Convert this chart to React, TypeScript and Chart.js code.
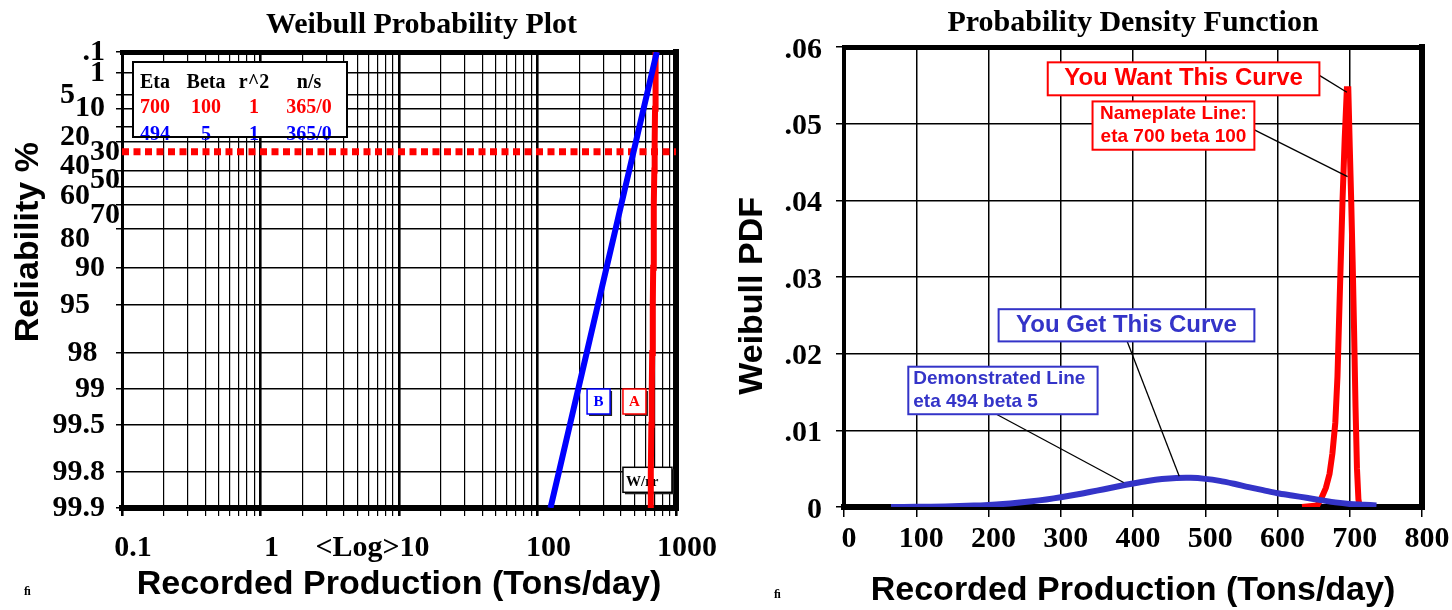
import React, { useEffect, useRef } from "react";
import { Chart, registerables } from "chart.js";

Chart.register(...registerables);

// ---------------- Left: Weibull probability plot ----------------
const PROB_RELIABILITY = [99.9, 99.8, 99.5, 99, 98, 95, 90, 80, 70, 50, 30, 10, 1, 0.1];
const PROB_B_PRODUCTION = [124.1, 142.6, 171.3, 196.9, 226.4, 272.7, 315.0, 366.0, 402.0, 459.1, 512.7, 583.7, 670.5, 727.1];
const PROB_A_PRODUCTION = [653.3, 657.8, 663.9, 668.5, 673.2, 679.5, 684.4, 689.6, 692.8, 697.4, 701.3, 705.9, 710.8, 713.7];
const ETA_LINE_RELIABILITY = 36.8;
const ETA_LINE_PRODUCTION = [0.1, 1000];

const REL_TICKS = [0.1, 1, 5, 10, 20, 30, 40, 50, 60, 70, 80, 90, 95, 98, 99, 99.5, 99.8, 99.9];
const REL_TICK_LABELS = [".1", "1", "5", "10", "20", "30", "40", "50", "60", "70", "80", "90", "95", "98", "99", "99.5", "99.8", "99.9"];
const LOG_DECADES = [0.1, 1, 10, 100, 1000];
const LOG_DECADE_LABELS = ["0.1", "1", "<Log>10", "100", "1000"];

const LEGEND_HEADER = ["Eta", "Beta", "r^2", "n/s"];
const LEGEND_ETA = [700, 494];
const LEGEND_BETA = [100, 5];
const LEGEND_R2 = [1, 1];
const LEGEND_NS = ["365/0", "365/0"];

// ---------------- Right: probability density function ----------------
const PDF_B_X = [65, 100, 140, 180, 200, 220, 240, 260, 280, 300, 320, 340, 360, 380, 400, 420, 440, 460, 480, 500, 520, 540, 560, 580, 600, 620, 640, 660, 680, 700, 720, 737];
const PDF_B_Y = [0.0, 0.00002, 0.00007, 0.00018, 0.00027, 0.00039, 0.00055, 0.00075, 0.00099, 0.00127, 0.00159, 0.00195, 0.00232, 0.00271, 0.00307, 0.00339, 0.00364, 0.00378, 0.0038, 0.00367, 0.00341, 0.00303, 0.0026, 0.0022, 0.0018, 0.0015, 0.0012, 0.0009, 0.0006, 0.0004, 0.0003, 0.0002];
const PDF_A_X = [634, 655, 661, 667, 672, 676, 680, 683, 686, 690, 693, 696, 698, 700, 702, 704, 706, 708, 710, 712, 714];
const PDF_A_Y = [0.0, 0.0002, 0.0012, 0.0025, 0.0043, 0.007, 0.011, 0.017, 0.027, 0.04, 0.048, 0.0545, 0.0545, 0.047, 0.04, 0.032, 0.023, 0.013, 0.005, 0.001, 0.0];
const PDF_X_TICKS = [0, 100, 200, 300, 400, 500, 600, 700, 800];
const PDF_Y_TICKS = [0, 0.01, 0.02, 0.03, 0.04, 0.05, 0.06];
const PDF_Y_LABELS = ["0", ".01", ".02", ".03", ".04", ".05", ".06"];

// ---------------- styling ----------------
const SERIF = '"Liberation Serif", "Times New Roman", serif';
const SANS = '"Liberation Sans", Arial, sans-serif';
const RED = "#ff0000";
const BLUE = "#0000ff";
const PDF_BLUE = "#3434c8";

// label nudges (trailing spaces push right-aligned text left, extra blank line drops it)
const REL_LABEL_SPACES: Record<string, number> = {
  ".1": 2, "1": 2, "5": 6, "10": 2, "20": 4, "30": 0, "40": 4, "50": 0, "60": 4, "70": 0,
  "80": 4, "90": 2, "95": 4, "98": 3, "99": 2, "99.5": 2, "99.8": 2, "99.9": 2,
};
const REL_LABEL_DROPPED = ["20", "30", "40", "50", "60", "70", "80"];
const REL_NO_GRID = [40];

const PDF_NOTES = [
  { lines: ["You Want This Curve"], color: RED, size: 24, align: "center", x0: 282, x1: 658, y0: 0.0537, y1: 0.058, lx0: 658, ly0: 0.0563, lx1: 696, ly1: 0.0541 },
  { lines: ["Nameplate Line:", "eta 700 beta 100"], color: RED, size: 19, align: "center", x0: 344, x1: 568, y0: 0.0466, y1: 0.0529, lx0: 568, ly0: 0.0492, lx1: 697, ly1: 0.0431 },
  { lines: ["You Get This Curve"], color: PDF_BLUE, size: 24, align: "center", x0: 214, x1: 568, y0: 0.0216, y1: 0.0258, lx0: 392, ly0: 0.0216, lx1: 464, ly1: 0.004 },
  { lines: ["Demonstrated Line", "eta 494 beta 5"], color: PDF_BLUE, size: 19, align: "left", x0: 89, x1: 351, y0: 0.0121, y1: 0.0183, lx0: 211, ly0: 0.0121, lx1: 387, ly1: 0.0032 },
];

const wt = (pct: number) => Math.log(-Math.log(pct / 100));

function buildLogGrid(): number[] {
  const out: number[] = [];
  for (let i = 0; i < LOG_DECADES.length - 1; i++) {
    for (let m = 1; m <= 9; m++) out.push(Number((LOG_DECADES[i] * m).toPrecision(6)));
  }
  out.push(LOG_DECADES[LOG_DECADES.length - 1]);
  return out;
}
const decadeIndex = (v: number) => LOG_DECADES.findIndex((d) => Math.abs(d - v) / d < 1e-6);

const frameAxis = (position: string, width: number) => ({
  type: "linear",
  position,
  min: 0,
  max: 1,
  ticks: { display: false },
  grid: { display: true, drawOnChartArea: false, drawTicks: false, color: "rgba(0,0,0,0)", lineWidth: width },
  border: { display: true, color: "#000", width },
  afterFit: (s: any) => {
    if (position === "top" || position === "bottom") s.height = 0;
    else s.width = 0;
  },
});

function drawGlyph(ctx: CanvasRenderingContext2D, x: number, y: number) {
  ctx.save();
  ctx.fillStyle = "#000";
  ctx.font = `bold 12px ${SERIF}`;
  ctx.textAlign = "left";
  ctx.textBaseline = "alphabetic";
  ctx.fillText("\ufb01", x, y);
  ctx.restore();
}

function makeProbChart(canvas: HTMLCanvasElement) {
  const logGrid = buildLogGrid();

  const notes = {
    id: "probNotes",
    beforeDatasetsDraw(chart: any) {
      const { ctx, chartArea: a, scales } = chart;
      const xs = scales.x;
      const ys = scales.y;
      ctx.save();
      // results box
      const bx = a.left + 11;
      const by = a.top + 10;
      const bw = 214;
      const bh = 75;
      ctx.fillStyle = "#fff";
      ctx.fillRect(bx, by, bw, bh);
      ctx.font = `bold 20px ${SERIF}`;
      ctx.textAlign = "center";
      ctx.textBaseline = "alphabetic";
      const cols = [22, 73, 121, 176];
      ctx.fillStyle = "#000";
      LEGEND_HEADER.forEach((h, i) => ctx.fillText(h, bx + cols[i], by + 26));
      const rowColors = [RED, BLUE];
      const rowY = [by + 51, by + 78];
      LEGEND_ETA.forEach((_, r) => {
        ctx.fillStyle = rowColors[r];
        const vals = [String(LEGEND_ETA[r]), String(LEGEND_BETA[r]), String(LEGEND_R2[r]), LEGEND_NS[r]];
        vals.forEach((v, i) => ctx.fillText(v, bx + cols[i], rowY[r]));
      });
      ctx.strokeStyle = "#000";
      ctx.lineWidth = 2;
      ctx.strokeRect(bx, by, bw, bh);

      // small labelled boxes
      const smallBox = (text: string, color: string, xVal: number, rel: number, w: number, h: number, align: string) => {
        const x = xs.getPixelForValue(xVal);
        const y = ys.getPixelForValue(wt(rel));
        ctx.fillStyle = "#222";
        ctx.fillRect(x + 2, y + 2, w, h);
        ctx.fillStyle = "#fff";
        ctx.fillRect(x, y, w, h);
        ctx.strokeStyle = color;
        ctx.lineWidth = 1.5;
        ctx.strokeRect(x, y, w, h);
        ctx.fillStyle = color;
        ctx.font = `bold 15px ${SERIF}`;
        ctx.textBaseline = "middle";
        if (align === "center") {
          ctx.textAlign = "center";
          ctx.fillText(text, x + w / 2, y + h / 2 + 1);
        } else {
          ctx.textAlign = "left";
          ctx.fillText(text, x + 3, y + h / 2 + 2);
        }
      };
      smallBox("B", BLUE, 228, 99, 23, 25, "center");
      smallBox("A", RED, 414, 99, 23, 25, "center");
      smallBox("W/rr", "#000", 414, 99.78, 49, 25, "left");
      ctx.restore();
    },
    afterDraw(chart: any) {
      drawGlyph(chart.ctx, 24, 595);
    },
  };

  return new Chart(canvas as any, {
    type: "line",
    data: {
      datasets: [
        {
          label: "B",
          data: PROB_B_PRODUCTION.map((x, i) => ({ x, y: wt(PROB_RELIABILITY[i]) })),
          borderColor: BLUE,
          backgroundColor: BLUE,
          borderWidth: 6,
          pointRadius: 0,
          tension: 0,
        },
        {
          label: "A",
          data: PROB_A_PRODUCTION.map((x, i) => ({ x, y: wt(PROB_RELIABILITY[i]) })),
          borderColor: RED,
          backgroundColor: RED,
          borderWidth: 6,
          pointRadius: 0,
          tension: 0,
        },
        {
          label: "eta",
          data: ETA_LINE_PRODUCTION.map((x) => ({ x, y: wt(ETA_LINE_RELIABILITY) })),
          borderColor: RED,
          borderWidth: 7,
          borderDash: [7, 4.5],
          borderCapStyle: "butt",
          pointRadius: 0,
        },
      ],
    } as any,
    options: {
      animation: false,
      responsive: false,
      events: [],
      layout: { padding: { left: 0, right: 54, top: 0, bottom: 0 } },
      plugins: {
        legend: { display: false },
        tooltip: { enabled: false },
        title: {
          display: true,
          text: " ".repeat(6) + "Weibull Probability Plot",
          fullSize: false,
          color: "#000",
          font: { family: SERIF, size: 30, weight: "bold", lineHeight: 1.2 },
          padding: { top: 7, bottom: 9 },
        },
      },
      scales: {
        x: {
          type: "logarithmic",
          position: "bottom",
          min: 0.1,
          max: 1000,
          afterBuildTicks: (s: any) => {
            s.ticks = logGrid.map((v) => ({ value: v, major: decadeIndex(v) >= 0 }));
          },
          ticks: {
            autoSkip: false,
            maxRotation: 0,
            minRotation: 0,
            color: "#000",
            padding: 14,
            labelOffset: 11,
            font: { family: SERIF, size: 30, weight: "bold" },
            callback: (_v: any, i: number, ticks: any[]) => {
              const k = decadeIndex(ticks[i].value);
              if (k < 0) return "";
              const t = LOG_DECADE_LABELS[k];
              return t === "<Log>10" ? t + " ".repeat(10) : t;
            },
          },
          grid: {
            color: "#000",
            lineWidth: (c: any) => (c.tick && decadeIndex(c.tick.value) >= 0 ? 2.6 : 1.2),
            tickLength: 8,
          },
          border: { display: true, color: "#000", width: 6 },
          title: {
            display: true,
            text: "Recorded Production (Tons/day)",
            color: "#000",
            font: { family: SANS, size: 34, weight: "bold", lineHeight: 1.2 },
            padding: { top: 0, bottom: 4.6 },
          },
          afterFit: (s: any) => {
            s.height = 102;
          },
        },
        y: {
          type: "linear",
          position: "left",
          min: wt(99.9),
          max: wt(0.1),
          afterBuildTicks: (s: any) => {
            s.ticks = REL_TICKS.map((v) => ({ value: wt(v) }));
          },
          ticks: {
            autoSkip: false,
            color: "#000",
            padding: -4,
            font: { family: SERIF, size: 30, weight: "bold", lineHeight: "20px" },
            callback: (_v: any, i: number) => {
              const t = REL_TICK_LABELS[i];
              const s = t + " ".repeat(REL_LABEL_SPACES[t] || 0);
              return REL_LABEL_DROPPED.includes(t) ? ["", s] : s;
            },
          },
          grid: {
            color: (c: any) => (c.index !== undefined && REL_NO_GRID.includes(REL_TICKS[c.index]) ? "rgba(0,0,0,0)" : "#000"),
            lineWidth: 1.5,
            tickLength: 6,
          },
          border: { display: true, color: "#000", width: 3 },
          title: {
            display: true,
            text: " ".repeat(8) + "Reliability %",
            color: "#000",
            font: { family: SANS, size: 34, weight: "bold", lineHeight: 1.2 },
            padding: { top: 8, bottom: 0 },
          },
          afterFit: (s: any) => {
            s.width = 122;
          },
        },
        xTop: frameAxis("top", 5),
        yRight: frameAxis("right", 6),
      },
    } as any,
    plugins: [notes],
  });
}

function makePdfChart(canvas: HTMLCanvasElement) {
  const notes = {
    id: "pdfNotes",
    afterDatasetsDraw(chart: any) {
      const { ctx, scales } = chart;
      const xs = scales.x;
      const ys = scales.y;
      ctx.save();
      PDF_NOTES.forEach((n) => {
        // leader
        ctx.strokeStyle = "#000";
        ctx.lineWidth = 1.3;
        ctx.beginPath();
        ctx.moveTo(xs.getPixelForValue(n.lx0), ys.getPixelForValue(n.ly0));
        ctx.lineTo(xs.getPixelForValue(n.lx1), ys.getPixelForValue(n.ly1));
        ctx.stroke();
        // box
        const px0 = xs.getPixelForValue(n.x0);
        const px1 = xs.getPixelForValue(n.x1);
        const pyTop = ys.getPixelForValue(n.y1);
        const pyBot = ys.getPixelForValue(n.y0);
        ctx.fillStyle = "#fff";
        ctx.fillRect(px0, pyTop, px1 - px0, pyBot - pyTop);
        ctx.strokeStyle = n.color;
        ctx.lineWidth = 2;
        ctx.strokeRect(px0, pyTop, px1 - px0, pyBot - pyTop);
        // text
        ctx.fillStyle = n.color;
        ctx.font = `bold ${n.size}px ${SANS}`;
        ctx.textBaseline = "middle";
        const lh = n.size * 1.2;
        const cy = (pyTop + pyBot) / 2;
        n.lines.forEach((line, i) => {
          const y = cy + (i - (n.lines.length - 1) / 2) * lh;
          if (n.align === "center") {
            ctx.textAlign = "center";
            ctx.fillText(line, (px0 + px1) / 2, y);
          } else {
            ctx.textAlign = "left";
            ctx.fillText(line, px0 + 5, y);
          }
        });
      });
      ctx.restore();
    },
    afterDraw(chart: any) {
      drawGlyph(chart.ctx, 44, 598);
    },
  };

  return new Chart(canvas as any, {
    type: "line",
    data: {
      datasets: [
        {
          label: "Demonstrated",
          data: PDF_B_X.map((x, i) => ({ x, y: PDF_B_Y[i] })),
          borderColor: PDF_BLUE,
          borderWidth: 6,
          pointRadius: 0,
          tension: 0.3,
        },
        {
          label: "Nameplate",
          data: PDF_A_X.map((x, i) => ({ x, y: PDF_A_Y[i] })),
          borderColor: RED,
          borderWidth: 6,
          pointRadius: 0,
          tension: 0,
        },
      ],
    } as any,
    options: {
      animation: false,
      responsive: false,
      events: [],
      layout: { padding: { left: 0, right: 30, top: 0, bottom: 0 } },
      plugins: {
        legend: { display: false },
        tooltip: { enabled: false },
        title: {
          display: true,
          text: "Probability Density Function",
          fullSize: false,
          color: "#000",
          font: { family: SERIF, size: 30, weight: "bold", lineHeight: 1.2 },
          padding: { top: 5, bottom: 6 },
        },
      },
      scales: {
        x: {
          type: "linear",
          position: "bottom",
          min: 0,
          max: 800,
          afterBuildTicks: (s: any) => {
            s.ticks = PDF_X_TICKS.map((v) => ({ value: v }));
          },
          ticks: {
            autoSkip: false,
            maxRotation: 0,
            minRotation: 0,
            color: "#000",
            padding: 4,
            labelOffset: 5,
            font: { family: SERIF, size: 30, weight: "bold" },
            callback: (_v: any, i: number) => String(PDF_X_TICKS[i]),
          },
          grid: { color: "#000", lineWidth: 1.5, tickLength: 10 },
          border: { display: true, color: "#000", width: 6 },
          title: {
            display: true,
            text: "Recorded Production (Tons/day)",
            color: "#000",
            font: { family: SANS, size: 34, weight: "bold", lineHeight: 1.2 },
            padding: { top: 0, bottom: -1.4 },
          },
          afterFit: (s: any) => {
            s.height = 103;
          },
        },
        y: {
          type: "linear",
          position: "left",
          min: 0,
          max: 0.06,
          afterBuildTicks: (s: any) => {
            s.ticks = PDF_Y_TICKS.map((v) => ({ value: v }));
          },
          ticks: {
            autoSkip: false,
            color: "#000",
            padding: 14,
            labelOffset: 3,
            font: { family: SERIF, size: 30, weight: "bold" },
            callback: (_v: any, i: number) => PDF_Y_LABELS[i],
          },
          grid: { color: "#000", lineWidth: 1.5, tickLength: 8 },
          border: { display: true, color: "#000", width: 4 },
          title: {
            display: true,
            text: "Weibull PDF" + " ".repeat(4),
            color: "#000",
            font: { family: SANS, size: 34, weight: "bold", lineHeight: 1.2 },
            padding: { top: 2.6, bottom: 0 },
          },
          afterFit: (s: any) => {
            s.width = 114;
          },
        },
        xTop: frameAxis("top", 5),
        yRight: frameAxis("right", 6),
      },
    } as any,
    plugins: [notes],
  });
}

export default function App() {
  const leftRef = useRef<HTMLCanvasElement>(null);
  const rightRef = useRef<HTMLCanvasElement>(null);

  useEffect(() => {
    const charts: Chart[] = [];
    if (leftRef.current) charts.push(makeProbChart(leftRef.current));
    if (rightRef.current) charts.push(makePdfChart(rightRef.current));
    return () => charts.forEach((c) => c.destroy());
  }, []);

  return (
    <div style={{ position: "fixed", left: 0, top: 0, width: 1452, height: 610, background: "#fff", overflow: "hidden" }}>
      <canvas ref={leftRef} width={730} height={610} style={{ position: "absolute", left: 0, top: 0, width: 730, height: 610 }} />
      <canvas ref={rightRef} width={722} height={610} style={{ position: "absolute", left: 730, top: 0, width: 722, height: 610 }} />
    </div>
  );
}
